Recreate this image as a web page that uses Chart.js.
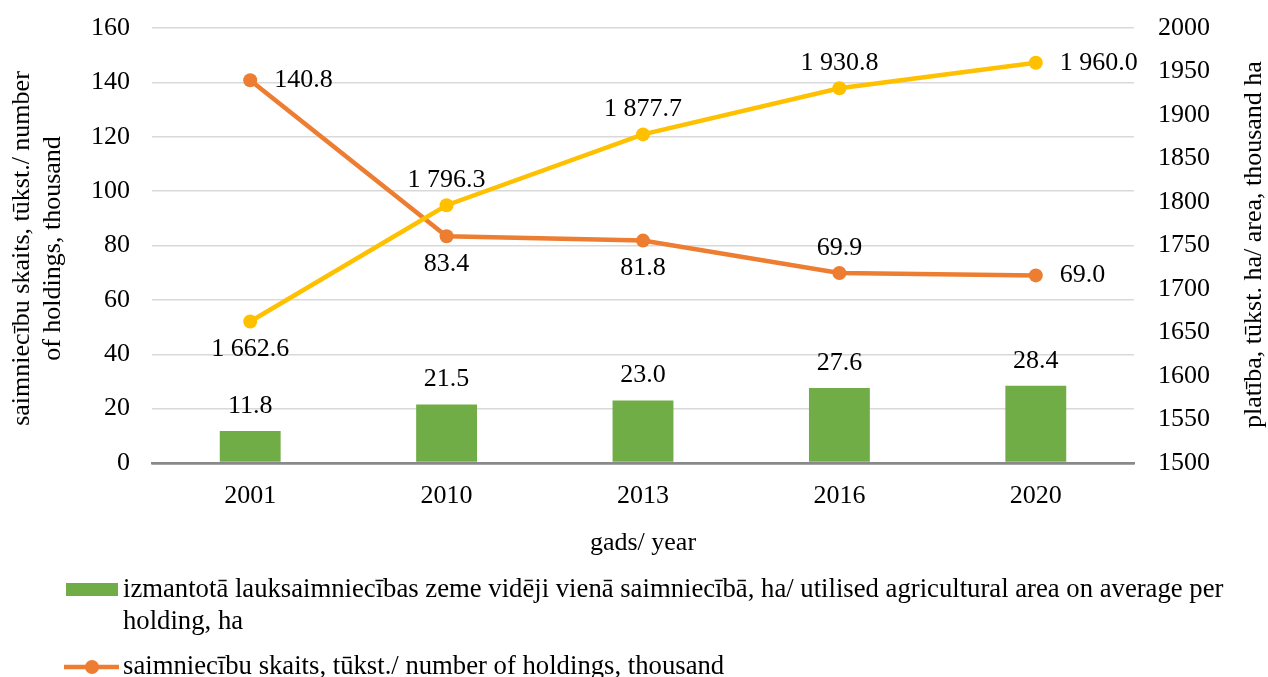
<!DOCTYPE html>
<html><head><meta charset="utf-8">
<script src="https://cdn.jsdelivr.net/npm/chart.js@4"></script>
<style>html,body{margin:0;padding:0;background:#fff;overflow:hidden}#wrap{width:1268px;height:677px;position:relative}</style>
</head><body><div id="wrap"><canvas id="c"></canvas></div>
<script>
// ---- data ----
const years = ['2001', '2010', '2013', '2016', '2020'];
const areaPerHolding = [11.8, 21.5, 23.0, 27.6, 28.4];
const holdingsCount = [140.8, 83.4, 81.8, 69.9, 69.0];
const totalArea = [1662.6, 1796.3, 1877.7, 1930.8, 1960.0];
const leftAxisRange = [0, 160, 20];
const rightAxisRange = [1500, 2000, 50];
const seriesNames = [
  'izmantotā lauksaimniecības zeme vidēji vienā saimniecībā, ha/ utilised agricultural area on average per holding, ha',
  'saimniecību skaits, tūkst./ number of holdings, thousand',
  'platība, tūkst. ha/ area, thousand ha'
];
const leftTitleLines = ['saimniecību skaits, tūkst./ number', 'of holdings, thousand'];
const rightTitle = 'platība, tūkst. ha/ area, thousand ha';
const xTitle = 'gads/ year';

// ---- styles ----
const FONT = "'Liberation Serif','Times New Roman',serif";
const FS = 26;
const LEGEND_FS = 26.7;
const GREEN = '#70AD47', ORANGE = '#ED7D31', YELLOW = '#FFC000';
const placeBars = ['above', 'above', 'above', 'above', 'above'];
const placeHoldings = ['right', 'below', 'below', 'above', 'right'];
const placeArea = ['below', 'above', 'above', 'above', 'right'];

function fmt(v) {
  const s = v.toFixed(1).split('.');
  return s[0].replace(/\B(?=(\d{3})+(?!\d))/g, ' ') + '.' + s[1];
}

const valueLabels = {
  id: 'valueLabels',
  afterDatasetsDraw(chart) {
    const ctx = chart.ctx;
    ctx.save();
    ctx.font = FS + 'px ' + FONT;
    ctx.fillStyle = '#000';
    ctx.textBaseline = 'middle';
    chart.data.datasets.forEach((ds, di) => {
      const meta = chart.getDatasetMeta(di);
      meta.data.forEach((el, i) => {
        const pos = ds.labelPos[i];
        let x = el.x, y = el.y;
        if (pos === 'right') { ctx.textAlign = 'left'; x += 24; }
        else if (pos === 'above') { ctx.textAlign = 'center'; y -= 25; }
        else { ctx.textAlign = 'center'; y += 28; }
        ctx.fillText(fmt(ds.data[i]), x, y);
      });
    });
    ctx.restore();
  }
};

function wrap(ctx, text, maxW) {
  const words = text.split(' ');
  const lines = [];
  let cur = '';
  words.forEach(w => {
    const t = cur ? cur + ' ' + w : w;
    if (ctx.measureText(t).width > maxW && cur) { lines.push(cur); cur = w; }
    else cur = t;
  });
  if (cur) lines.push(cur);
  return lines;
}

const decorations = {
  id: 'decorations',
  afterDraw(chart) {
    const ctx = chart.ctx;
    const area = chart.chartArea;
    const midY = (area.top + area.bottom) / 2;
    ctx.save();
    ctx.font = FS + 'px ' + FONT;
    ctx.fillStyle = '#000';
    ctx.textBaseline = 'middle';
    ctx.textAlign = 'center';
    // left title
    [22, 53].forEach((x, k) => {
      ctx.save();
      ctx.translate(x, midY + 3);
      ctx.rotate(-Math.PI / 2);
      ctx.fillText(leftTitleLines[k], 0, 0);
      ctx.restore();
    });
    // right title
    ctx.save();
    ctx.translate(1254, midY - 1);
    ctx.rotate(-Math.PI / 2);
    ctx.fillText(rightTitle, 0, 0);
    ctx.restore();
    // x title
    ctx.fillText(xTitle, (area.left + area.right) / 2, 543);
    // legend
    ctx.font = LEGEND_FS + 'px ' + FONT;
    ctx.textAlign = 'left';
    const tx = 123, lh = 32, gap = 45;
    let y = 590;
    chart.data.datasets.forEach((ds, di) => {
      const lines = wrap(ctx, ds.label, 1268 - tx - 25);
      if (ds.type === 'bar') {
        ctx.fillStyle = ds.backgroundColor;
        ctx.fillRect(66, y - 7, 52, 13);
      } else {
        ctx.strokeStyle = ds.borderColor;
        ctx.lineWidth = 4.5;
        ctx.beginPath(); ctx.moveTo(64, y); ctx.lineTo(119, y); ctx.stroke();
        ctx.fillStyle = ds.borderColor;
        ctx.beginPath(); ctx.arc(92, y, 7, 0, Math.PI * 2); ctx.fill();
      }
      ctx.fillStyle = '#000';
      lines.forEach((l, k) => ctx.fillText(l, tx, y + k * lh));
      y += (lines.length - 1) * lh + gap;
    });
    ctx.restore();
  }
};

const tickFont = { family: FONT, size: FS };
function fixV(w) { return s => { s.width = w; s.paddingTop = 0; s.paddingBottom = 0; }; }

new Chart(document.getElementById('c'), {
  data: {
    labels: years,
    datasets: [
      { type: 'bar', label: seriesNames[0], data: areaPerHolding, yAxisID: 'y',
        backgroundColor: GREEN, barPercentage: 0.31, categoryPercentage: 1, order: 3, labelPos: placeBars },
      { type: 'line', label: seriesNames[1], data: holdingsCount, yAxisID: 'y',
        borderColor: ORANGE, backgroundColor: ORANGE, borderWidth: 4.5, pointRadius: 7,
        pointBackgroundColor: ORANGE, pointBorderWidth: 0, order: 2, labelPos: placeHoldings },
      { type: 'line', label: seriesNames[2], data: totalArea, yAxisID: 'y1',
        borderColor: YELLOW, backgroundColor: YELLOW, borderWidth: 4.5, pointRadius: 7,
        pointBackgroundColor: YELLOW, pointBorderWidth: 0, order: 1, labelPos: placeArea }
    ]
  },
  options: {
    responsive: true,
    maintainAspectRatio: false,
    animation: false,
    layout: { padding: { top: 28, left: 0, right: 0, bottom: 0 } },
    plugins: { legend: { display: false }, tooltip: { enabled: false } },
    scales: {
      x: {
        position: 'bottom',
        grid: { display: false, drawTicks: false },
        border: { display: true, color: '#898989', width: 2.5 },
        ticks: { color: '#000', font: tickFont, padding: 18 },
        afterFit(s) { s.height = 214; s.paddingLeft = 0; s.paddingRight = 0; }
      },
      y: {
        position: 'left',
        min: leftAxisRange[0], max: leftAxisRange[1],
        ticks: { stepSize: leftAxisRange[2], color: '#000', font: tickFont, padding: 22,
                 callback: v => String(v) },
        grid: { drawTicks: false, color: c => c.tick && c.tick.value === 0 ? '#898989' : '#d9d9d9',
                lineWidth: c => c.tick && c.tick.value === 0 ? 2.5 : 1.5 },
        border: { display: false },
        afterFit: fixV(152)
      },
      y1: {
        position: 'right',
        min: rightAxisRange[0], max: rightAxisRange[1],
        ticks: { stepSize: rightAxisRange[2], color: '#000', font: tickFont, padding: 24,
                 callback: v => String(v) },
        grid: { display: false, drawTicks: false },
        border: { display: false },
        afterFit: fixV(134)
      }
    }
  },
  plugins: [valueLabels, decorations]
});
</script>
</body></html>
